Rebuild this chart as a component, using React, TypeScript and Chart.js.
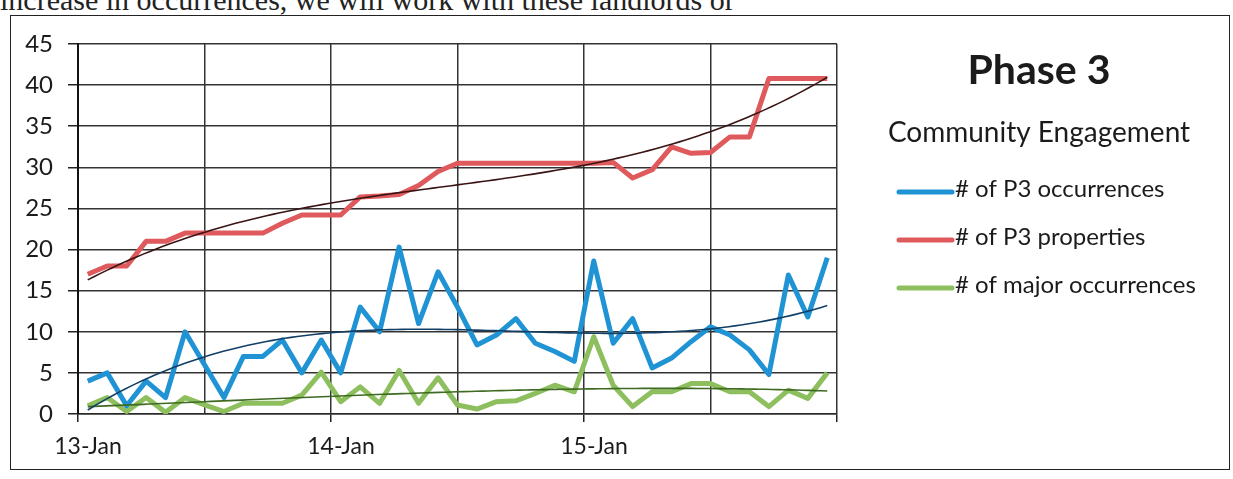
import React, { useEffect, useRef } from "react";
import { Chart, registerables } from "chart.js";

Chart.register(...registerables);

// ---- data ----
const dayLabels = ["13-Jan", "14-Jan", "15-Jan"];
const pointsPerDay = 13;
const seriesNames = ["# of P3 occurrences", "# of P3 properties", "# of major occurrences"];
const chartTitle = "Phase 3";
const chartSubtitle = "Community Engagement";
const pageText = "increase in occurrences, we will work with these landlords or";

const p3Occurrences = [
  4, 5, 1, 4, 2, 10, 6, 2, 7, 7, 9, 5, 9,
  5, 13, 10, 20.3, 11, 17.3, 13, 8.4, 9.6, 11.6, 8.6, 7.6, 6.4,
  18.6, 8.6, 11.6, 5.6, 6.8, 8.8, 10.6, 9.6, 7.8, 4.8, 16.9, 11.8, 19,
];
const p3Properties = [
  17, 18, 18, 21, 21, 22, 22, 22, 22, 22, 23.2, 24.2, 24.2,
  24.2, 26.4, 26.5, 26.7, 27.8, 29.5, 30.5, 30.5, 30.5, 30.5, 30.5, 30.5, 30.5,
  30.5, 30.6, 28.7, 29.7, 32.5, 31.7, 31.8, 33.7, 33.7, 40.8, 40.8, 40.8, 40.8,
];
const majorOccurrences = [
  1, 2, 0.3, 2, 0.2, 2, 1.1, 0.3, 1.3, 1.3, 1.3, 2.3, 5.1,
  1.5, 3.3, 1.3, 5.3, 1.3, 4.4, 1.1, 0.6, 1.5, 1.6, 2.5, 3.5, 2.7,
  9.4, 3.5, 0.9, 2.7, 2.7, 3.7, 3.7, 2.7, 2.7, 0.9, 2.9, 1.9, 5,
];
const seriesValues = [p3Occurrences, p3Properties, majorOccurrences];
const seriesColors = ["#1f93d3", "#df5a5c", "#8dbf5e"];
const trendColors = ["#123f66", "#3a1414", "#3f6a22"];
const trendOrder = 3;

const xOf = (i: number) => (i + 0.5) / pointsPerDay;

function polyFit(ys: number[], order: number): number[] {
  const n = order + 1;
  const A: number[][] = Array.from({ length: n }, () => new Array(n + 1).fill(0));
  ys.forEach((y, i) => {
    for (let r = 0; r < n; r++) {
      for (let c = 0; c < n; c++) A[r][c] += Math.pow(i, r + c);
      A[r][n] += y * Math.pow(i, r);
    }
  });
  for (let col = 0; col < n; col++) {
    let piv = col;
    for (let r = col + 1; r < n; r++) if (Math.abs(A[r][col]) > Math.abs(A[piv][col])) piv = r;
    const tmp = A[col]; A[col] = A[piv]; A[piv] = tmp;
    for (let r = 0; r < n; r++) {
      if (r === col) continue;
      const f = A[r][col] / A[col][col];
      for (let c = col; c <= n; c++) A[r][c] -= f * A[col][c];
    }
  }
  return A.map((row, r) => row[n] / row[r]);
}

function trendPoints(ys: number[]) {
  const coef = polyFit(ys, trendOrder);
  const pts: { x: number; y: number }[] = [];
  const steps = 120;
  for (let k = 0; k <= steps; k++) {
    const t = (k * (ys.length - 1)) / steps;
    let v = 0;
    coef.forEach((c, p) => (v += c * Math.pow(t, p)));
    pts.push({ x: xOf(t), y: v });
  }
  return pts;
}

const FONT = "Lato, 'Open Sans', sans-serif";

const legendPlugin = {
  id: "sideLegend",
  afterDraw(chart: any) {
    const ctx = chart.ctx as CanvasRenderingContext2D;
    ctx.save();
    ctx.fillStyle = "#1b1b1b";
    ctx.textAlign = "center";
    ctx.textBaseline = "alphabetic";
    ctx.font = `bold 41px ${FONT}`;
    ctx.fillText(chartTitle, 1039, 84);
    ctx.font = `28px ${FONT}`;
    ctx.fillText(chartSubtitle, 1039, 142);
    ctx.textAlign = "left";
    ctx.textBaseline = "middle";
    ctx.font = `24px ${FONT}`;
    seriesNames.forEach((name, k) => {
      const y = 192 + k * 48;
      ctx.strokeStyle = seriesColors[k];
      ctx.lineWidth = 5;
      ctx.lineCap = "round";
      ctx.beginPath();
      ctx.moveTo(899, y);
      ctx.lineTo(952, y);
      ctx.stroke();
      ctx.fillText(name, 955, y - 3);
    });
    ctx.restore();
  },
};

export default function App() {
  const ref = useRef<HTMLCanvasElement | null>(null);
  useEffect(() => {
    if (!ref.current) return;
    const datasets: any[] = [];
    seriesValues.forEach((vals, k) => {
      datasets.push({
        label: seriesNames[k],
        data: vals.map((v, i) => ({ x: xOf(i), y: v })),
        borderColor: seriesColors[k],
        backgroundColor: seriesColors[k],
        borderWidth: 5,
        pointRadius: 0,
        tension: 0,
        borderJoinStyle: "round",
        order: 2,
      });
    });
    seriesValues.forEach((vals, k) => {
      datasets.push({
        label: seriesNames[k] + " trend",
        data: trendPoints(vals),
        borderColor: trendColors[k],
        backgroundColor: trendColors[k],
        borderWidth: 1.6,
        pointRadius: 0,
        tension: 0,
        order: 1,
      });
    });
    const chart = new Chart(ref.current, {
      type: "line",
      data: { datasets },
      plugins: [legendPlugin],
      options: {
        animation: false,
        responsive: false,
        devicePixelRatio: 1,
        layout: { padding: { left: 20, right: 396, top: 44, bottom: 25 } },
        plugins: { legend: { display: false }, tooltip: { enabled: false }, title: { display: false } },
        scales: {
          x: {
            type: "linear",
            min: 0,
            max: 3,
            afterBuildTicks: (s: any) => {
              s.ticks = [0, 0.5, 1, 1.5, 2, 2.5, 3].map((v) => ({ value: v }));
            },
            afterFit: (s: any) => {
              s.height = 40;
            },
            ticks: {
              autoSkip: false,
              maxRotation: 0,
              labelOffset: 10,
              padding: 11,
              color: "#1b1b1b",
              font: { family: FONT, size: 23 },
              callback: (v: any) => {
                const n = Number(v);
                return Number.isInteger(n) && n < dayLabels.length ? dayLabels[n] : "";
              },
            },
            grid: {
              color: "#333",
              lineWidth: 1.5,
              tickLength: 8,
              tickColor: (c: any) => (c.tick && Number.isInteger(c.tick.value) ? "#222" : "rgba(0,0,0,0)"),
            },
            border: { display: true, color: "#2a2a2a", width: 1.5 },
          },
          y: {
            min: 0,
            max: 45,
            afterFit: (s: any) => {
              s.width = 58;
            },
            ticks: {
              stepSize: 5,
              padding: 15,
              color: "#1b1b1b",
              font: { family: FONT, size: 24 },
            },
            grid: { color: "#333", lineWidth: 1.5, tickLength: 10, tickColor: "#222" },
            border: { display: true, color: "#111", width: 2 },
          },
        },
      },
    });
    return () => chart.destroy();
  }, []);

  return (
    <div style={{ position: "absolute", left: 0, top: 0, width: 1233, height: 479, background: "#fff", overflow: "hidden" }}>
      <div
        style={{
          position: "absolute",
          left: 0,
          top: -17,
          fontFamily: "'Liberation Serif', serif",
          fontSize: 30,
          lineHeight: "34px",
          color: "#222",
          whiteSpace: "nowrap",
        }}
      >
        {pageText}
      </div>
      <div
        style={{
          position: "absolute",
          left: 10,
          top: 15,
          width: 1220,
          height: 455,
          border: "1.5px solid #222",
          boxSizing: "border-box",
        }}
      />
      <canvas ref={ref} width={1233} height={479} style={{ position: "absolute", left: 0, top: 0, width: 1233, height: 479 }} />
    </div>
  );
}
